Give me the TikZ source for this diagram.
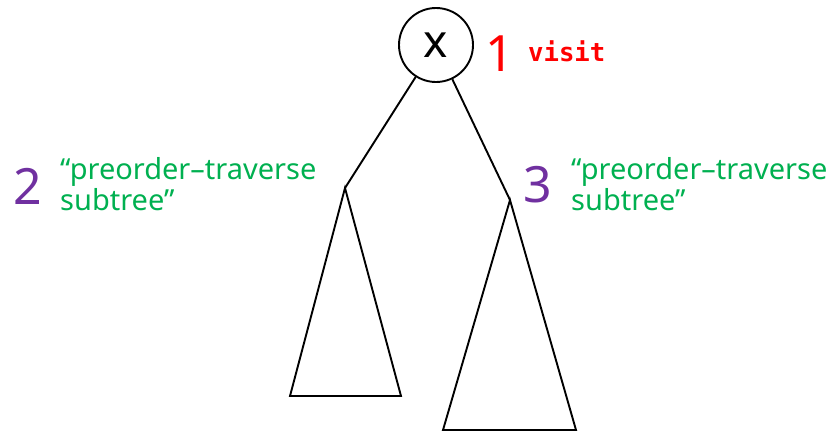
\documentclass[tikz,border=0pt]{standalone}
\usepackage{fontspec}
\setmainfont{Noto Sans}
\newfontfamily\monob{DejaVu Sans Mono}
\definecolor{redv}{RGB}{255,0,0}
\definecolor{purp}{RGB}{112,48,160}
\definecolor{grn}{RGB}{0,176,80}
\begin{document}
\begin{tikzpicture}[x=1pt,y=-1pt,
  edge/.style={line width=1.9pt, black},
  num/.style={inner sep=0pt, anchor=base west, text=purp, font=\fontsize{50}{50}\selectfont},
  lab/.style={inner sep=0pt, anchor=base west, text=grn, align=left, font=\fontsize{29}{31}\selectfont}]
\useasboundingbox (0,0) rectangle (834,432);
% root
\node[draw, circle, line width=1.9pt, minimum size=74pt, inner sep=0pt,
      font=\fontsize{46}{46}\selectfont] (x) at (436,45) {x};
% subtree apexes and bases
\coordinate (la) at (345,188);
\coordinate (lbl) at (290,396);
\coordinate (lbr) at (401,396);
\coordinate (ra) at (510,200);
\coordinate (rbl) at (443,430);
\coordinate (rbr) at (576,430);
\draw[edge] (x) -- (la);
\draw[edge] (x) -- (ra);
\draw[edge, line join=miter] (la) -- (lbl) -- (lbr) -- cycle;
\draw[edge, line join=miter] (ra) -- (rbl) -- (rbr) -- cycle;
% labels
\node[num, text=redv] (n1) at (485,71) {1};
\node[inner sep=0pt, anchor=base west, text=redv, font=\monob\bfseries\fontsize{25.6}{25.6}\selectfont] (visit) at (528,61) {visit};
\node[num] (n2) at (13,204) {2};
\node[lab] (t2) at (60,210) {“preorder–traverse\\subtree”};
\node[num] (n3) at (523,202) {3};
\node[lab] (t3) at (571,210) {“preorder–traverse\\subtree”};
\end{tikzpicture}
\end{document}
